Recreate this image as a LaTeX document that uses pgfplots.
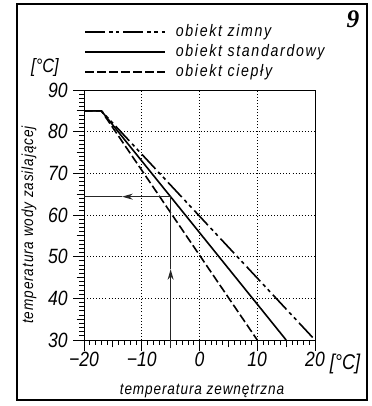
\documentclass[border=0pt]{standalone}
\usepackage{fontspec}
\usepackage{pgfplots}
\pgfplotsset{compat=1.18}
\usetikzlibrary{arrows.meta}
\newfontfamily\cad{Liberation Sans}[FakeStretch=0.85]
\newfontfamily\cadsp{Liberation Sans}[FakeStretch=0.85,LetterSpace=10]
\newfontfamily\cadlab{Liberation Sans}[FakeStretch=0.85,LetterSpace=5.5]
\newfontfamily\nine{Liberation Serif}
\begin{document}
\begin{tikzpicture}[x=0.75pt,y=0.75pt]
\path[use as bounding box] (0,0) rectangle (371,406);
\draw[line width=1.1pt] (17,6) rectangle (367,402);
\begin{axis}[
  at={(63pt,49.5pt)}, anchor=south west, scale only axis,
  width=173.25pt, height=187.5pt,
  xmin=-20, xmax=20, ymin=30, ymax=90,
  xtick={-20,-10,0,10,20}, xticklabels={{−20},{−10},0,10,20},
  ytick={30,40,50,60,70,80,90}, yticklabels={30,40,50,60,70,80,90},
  minor xtick={-19,...,19}, minor ytick={31,...,89},
  extra x ticks={-15,-5,5,15}, extra x tick labels={},
  extra y ticks={35,45,55,65,75,85}, extra y tick labels={},
  extra x tick style={xmajorgrids=false, major tick length=5.5pt},
  extra y tick style={ymajorgrids=false, major tick length=5.5pt},
  tick align=outside, xtick pos=bottom, ytick pos=left,
  major tick length=8pt, minor tick length=3.5pt,
  every tick/.style={black, line width=0.6pt},
  axis line style={line width=0.7pt},
  grid=major,
  major grid style={black, line width=0.6pt, dash pattern=on 0.7pt off 1.6pt},
  ticklabel style={font=\cad\itshape\fontsize{15.5}{15.5}\selectfont},
  yticklabel style={inner sep=0pt, xshift=-4pt},
  xticklabel style={inner sep=0pt, yshift=-1pt},
  clip=false,
  legend style={at={(axis description cs:0,1.265)}, anchor=north west,
    draw=none, fill=none, inner sep=0pt,
    font=\cadsp\itshape\fontsize{12.5}{12.5}\selectfont,
    nodes={inner sep=0pt, text height=9pt, text depth=3pt},
    row sep=3pt, column sep=7.5pt},
  legend cell align=left,
  legend image code/.code={\draw[#1] (0pt,0pt) -- (60pt,0pt);},
]
\addplot[black, line width=1.2pt, dash pattern=on 15pt off 3pt on 2.6pt off 2.6pt on 2.6pt off 3pt]
  coordinates {(-20,85) (-17,85) (20,30)};
\addlegendentry{obiekt zimny}
\addplot[black, line width=1.2pt]
  coordinates {(-20,85) (-17,85) (15,30)};
\addlegendentry{obiekt standardowy}
\addplot[black, line width=1.2pt, dash pattern=on 6.5pt off 2.5pt]
  coordinates {(-20,85) (-17,85) (10,30)};
\addlegendentry{obiekt ciepły}
\addplot[forget plot, black!85, line width=0.8pt, -{Stealth[length=8pt,width=4.5pt]}]
  coordinates {(-5,64.4) (-13.4,64.4)};
\addplot[forget plot, black!85, line width=0.8pt]
  coordinates {(-13.4,64.4) (-20,64.4)};
\addplot[forget plot, black!85, line width=0.8pt, -{Stealth[length=8pt,width=4.5pt]}]
  coordinates {(-5,28) (-5,47)};
\addplot[forget plot, black!85, line width=0.8pt]
  coordinates {(-5,47) (-5,64.4)};
\end{axis}
\node[font=\cadlab\itshape\fontsize{12}{12}\selectfont] at (202,15) {temperatura zewnętrzna};
\node[font=\cadlab\itshape\fontsize{12}{12}\selectfont, rotate=90] at (29,181) {temperatura wody zasilającej};
\node[font=\cad\itshape\fontsize{14.5}{14.5}\selectfont] at (45,338) {[°C]};
\node[font=\cad\itshape\fontsize{16}{16}\selectfont] at (345,42) {[°C]};
\node[font=\nine\bfseries\itshape\fontsize{19}{19}\selectfont] at (353,387) {9};
\end{tikzpicture}
\end{document}
